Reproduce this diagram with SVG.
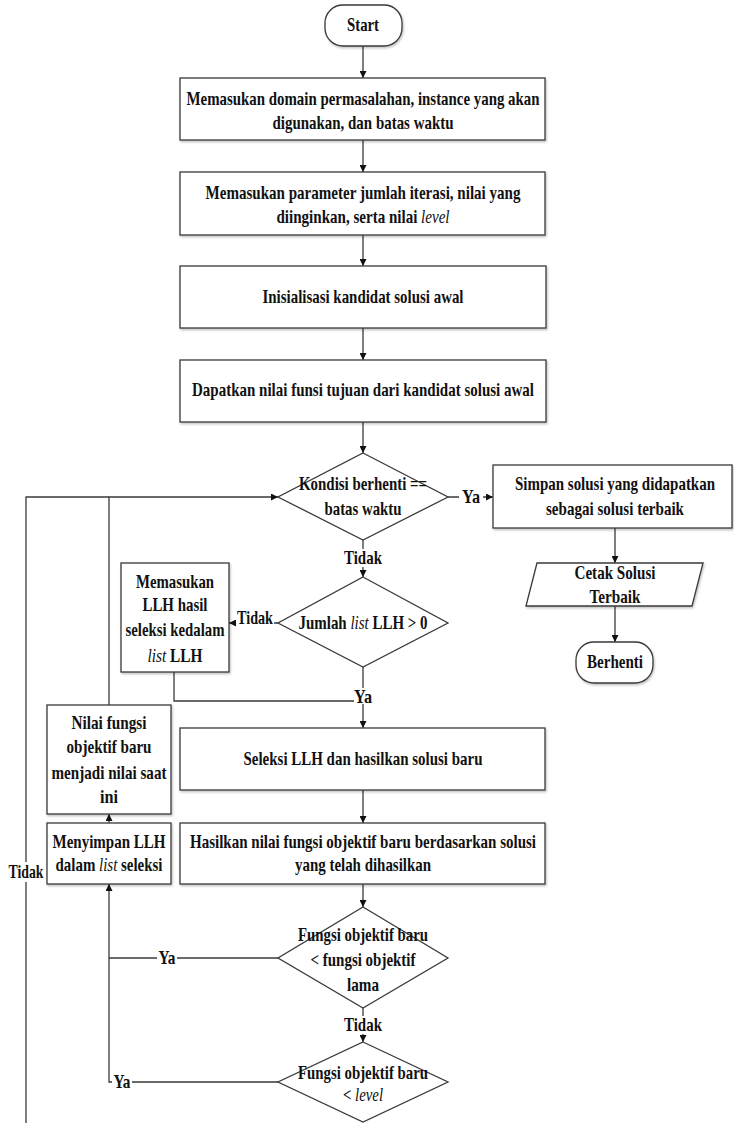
<svg xmlns="http://www.w3.org/2000/svg" width="734" height="1123" viewBox="0 0 734 1123">
<style>
.s{fill:#fff;stroke:#3a3a3a;stroke-width:1.3}
.c{fill:none;stroke:#3a3a3a;stroke-width:1.3}
.t{font-family:"Liberation Serif","Times New Roman",serif;font-weight:bold;font-size:19.5px;fill:#111;text-anchor:middle}
.i{font-style:italic;font-weight:normal}
.bg{fill:#fff}
</style>
<defs>
<marker id="a" viewBox="0 0 10 10" refX="10" refY="5" markerWidth="7" markerHeight="7" markerUnits="userSpaceOnUse" orient="auto"><path d="M0,0 L10,5 L0,10 Z" fill="#111"/></marker>
<filter id="sh" x="-5%" y="-5%" width="110%" height="115%"><feDropShadow dx="1" dy="1.5" stdDeviation="1" flood-color="#000" flood-opacity="0.25"/></filter>
</defs>

<g id="connectors">
<path class="c" d="M363,46 V78" marker-end="url(#a)"/>
<path class="c" d="M363,140 V172" marker-end="url(#a)"/>
<path class="c" d="M363,235 V266" marker-end="url(#a)"/>
<path class="c" d="M363,328 V360" marker-end="url(#a)"/>
<path class="c" d="M363,422 V453" marker-end="url(#a)"/>
<path class="c" d="M448,497 H493" marker-end="url(#a)"/>
<path class="c" d="M615,528 V563" marker-end="url(#a)"/>
<path class="c" d="M615,606 V642" marker-end="url(#a)"/>
<path class="c" d="M363,540 V577" marker-end="url(#a)"/>
<path class="c" d="M278,623 H229" marker-end="url(#a)"/>
<path class="c" d="M363,667 V728" marker-end="url(#a)"/>
<path class="c" d="M174,672 V701 H363"/>
<path class="c" d="M363,790 V823" marker-end="url(#a)"/>
<path class="c" d="M363,884 V907" marker-end="url(#a)"/>
<path class="c" d="M363,1008 V1042" marker-end="url(#a)"/>
<path class="c" d="M278,958 H109"/>
<path class="c" d="M278,1082 H109 V884" marker-end="url(#a)"/>
<path class="c" d="M109,823 V814" marker-end="url(#a)"/>
<path class="c" d="M109,705 V497 H278" marker-end="url(#a)"/>
<path class="c" d="M26,1123 V497 H109"/>
<rect class="bg" x="459" y="488" width="24" height="18"/>
<text class="t" x="471" y="503" textLength="18" lengthAdjust="spacingAndGlyphs">Ya</text>
<rect class="bg" x="343" y="549" width="40" height="18"/>
<text class="t" x="363" y="564" textLength="38" lengthAdjust="spacingAndGlyphs">Tidak</text>
<rect class="bg" x="236" y="614" width="38" height="18"/>
<text class="t" x="255" y="624" textLength="36" lengthAdjust="spacingAndGlyphs">Tidak</text>
<rect class="bg" x="354" y="688" width="18" height="16"/>
<text class="t" x="363" y="703" textLength="18" lengthAdjust="spacingAndGlyphs">Ya</text>
<rect class="bg" x="7" y="862" width="38" height="20"/>
<text class="t" x="26" y="878" textLength="35" lengthAdjust="spacingAndGlyphs">Tidak</text>
<rect class="bg" x="157" y="949" width="20" height="18"/>
<text class="t" x="167" y="964" textLength="17" lengthAdjust="spacingAndGlyphs">Ya</text>
<rect class="bg" x="112" y="1073" width="20" height="18"/>
<text class="t" x="122" y="1088" textLength="17" lengthAdjust="spacingAndGlyphs">Ya</text>
<rect class="bg" x="343" y="1016" width="40" height="18"/>
<text class="t" x="363" y="1031" textLength="38" lengthAdjust="spacingAndGlyphs">Tidak</text>
</g>

<g id="start">
<rect class="s" x="325" y="5" width="77" height="41" rx="18" filter="url(#sh)"/>
<text class="t" x="363" y="31" textLength="32" lengthAdjust="spacingAndGlyphs">Start</text>
</g>

<g id="box1">
<rect class="s" x="180" y="78" width="365" height="62" filter="url(#sh)"/>
<text class="t" x="363" y="105" textLength="353" lengthAdjust="spacingAndGlyphs">Memasukan domain permasalahan, instance yang akan</text>
<text class="t" x="363" y="129" textLength="181" lengthAdjust="spacingAndGlyphs">digunakan, dan batas waktu</text>
</g>

<g id="box2">
<rect class="s" x="180" y="172" width="365" height="63" filter="url(#sh)"/>
<text class="t" x="363" y="199" textLength="315" lengthAdjust="spacingAndGlyphs">Memasukan parameter jumlah iterasi, nilai yang</text>
<text class="t" x="363" y="223" textLength="173" lengthAdjust="spacingAndGlyphs">diinginkan, serta nilai <tspan class="i">level</tspan></text>
</g>

<g id="box3">
<rect class="s" x="180" y="266" width="366" height="62" filter="url(#sh)"/>
<text class="t" x="363" y="303" textLength="201" lengthAdjust="spacingAndGlyphs">Inisialisasi kandidat solusi awal</text>
</g>

<g id="box4">
<rect class="s" x="180" y="360" width="366" height="62" filter="url(#sh)"/>
<text class="t" x="363" y="396" textLength="342" lengthAdjust="spacingAndGlyphs">Dapatkan nilai funsi tujuan dari kandidat solusi awal</text>
</g>

<g id="decision1">
<polygon class="s" points="363,453 448,497 363,540 278,497"/>
<text class="t" x="363" y="490" textLength="128" lengthAdjust="spacingAndGlyphs">Kondisi berhenti ==</text>
<text class="t" x="363" y="515" textLength="77" lengthAdjust="spacingAndGlyphs">batas waktu</text>
</g>

<g id="simpan">
<rect class="s" x="493" y="465" width="239" height="63" filter="url(#sh)"/>
<text class="t" x="615" y="490" textLength="200" lengthAdjust="spacingAndGlyphs">Simpan solusi yang didapatkan</text>
<text class="t" x="615" y="515" textLength="138" lengthAdjust="spacingAndGlyphs">sebagai solusi terbaik</text>
</g>

<g id="cetak">
<polygon class="s" points="537,563 703,563 692,606 526,606" filter="url(#sh)"/>
<text class="t" x="615" y="579" textLength="81" lengthAdjust="spacingAndGlyphs">Cetak Solusi</text>
<text class="t" x="615" y="603" textLength="51" lengthAdjust="spacingAndGlyphs">Terbaik</text>
</g>

<g id="berhenti">
<rect class="s" x="576" y="642" width="77" height="41" rx="18" filter="url(#sh)"/>
<text class="t" x="615" y="668" textLength="56" lengthAdjust="spacingAndGlyphs">Berhenti</text>
</g>

<g id="decision2">
<polygon class="s" points="363,577 448,623 363,667 278,623"/>
<text class="t" x="363" y="629" textLength="129" lengthAdjust="spacingAndGlyphs">Jumlah <tspan class="i">list</tspan> LLH &gt; 0</text>
</g>

<g id="memasukanLLH">
<rect class="s" x="121" y="563" width="108" height="109" filter="url(#sh)"/>
<text class="t" x="175" y="588" textLength="78" lengthAdjust="spacingAndGlyphs">Memasukan</text>
<text class="t" x="175" y="611" textLength="65" lengthAdjust="spacingAndGlyphs">LLH hasil</text>
<text class="t" x="175" y="636" textLength="99" lengthAdjust="spacingAndGlyphs">seleksi kedalam</text>
<text class="t" x="175" y="662" textLength="55" lengthAdjust="spacingAndGlyphs"><tspan class="i">list</tspan> LLH</text>
</g>

<g id="nilai">
<rect class="s" x="47" y="705" width="124" height="109" filter="url(#sh)"/>
<text class="t" x="109" y="729" textLength="75" lengthAdjust="spacingAndGlyphs">Nilai fungsi</text>
<text class="t" x="109" y="753" textLength="85" lengthAdjust="spacingAndGlyphs">objektif baru</text>
<text class="t" x="109" y="779" textLength="115" lengthAdjust="spacingAndGlyphs">menjadi nilai saat</text>
<text class="t" x="109" y="803" textLength="18" lengthAdjust="spacingAndGlyphs">ini</text>
</g>

<g id="menyimpan">
<rect class="s" x="47" y="823" width="124" height="61" filter="url(#sh)"/>
<text class="t" x="109" y="848" textLength="113" lengthAdjust="spacingAndGlyphs">Menyimpan LLH</text>
<text class="t" x="109" y="871" textLength="107" lengthAdjust="spacingAndGlyphs">dalam <tspan class="i">list</tspan> seleksi</text>
</g>

<g id="seleksi">
<rect class="s" x="180" y="728" width="365" height="62" filter="url(#sh)"/>
<text class="t" x="363" y="765" textLength="239" lengthAdjust="spacingAndGlyphs">Seleksi LLH dan hasilkan solusi baru</text>
</g>

<g id="hasilkan">
<rect class="s" x="180" y="823" width="365" height="61" filter="url(#sh)"/>
<text class="t" x="363" y="848" textLength="346" lengthAdjust="spacingAndGlyphs">Hasilkan nilai fungsi objektif baru berdasarkan solusi</text>
<text class="t" x="363" y="871" textLength="136" lengthAdjust="spacingAndGlyphs">yang telah dihasilkan</text>
</g>

<g id="decision3">
<polygon class="s" points="363,907 448,958 363,1008 278,958"/>
<text class="t" x="363" y="941" textLength="130" lengthAdjust="spacingAndGlyphs">Fungsi objektif baru</text>
<text class="t" x="363" y="966" textLength="105" lengthAdjust="spacingAndGlyphs">&lt; fungsi objektif</text>
<text class="t" x="363" y="991" textLength="32" lengthAdjust="spacingAndGlyphs">lama</text>
</g>

<g id="decision4">
<polygon class="s" points="363,1042 448,1082 363,1122 278,1082"/>
<text class="t" x="363" y="1079" textLength="130" lengthAdjust="spacingAndGlyphs">Fungsi objektif baru</text>
<text class="t" x="363" y="1101" textLength="40" lengthAdjust="spacingAndGlyphs">&lt; <tspan class="i">level</tspan></text>
</g>
</svg>
